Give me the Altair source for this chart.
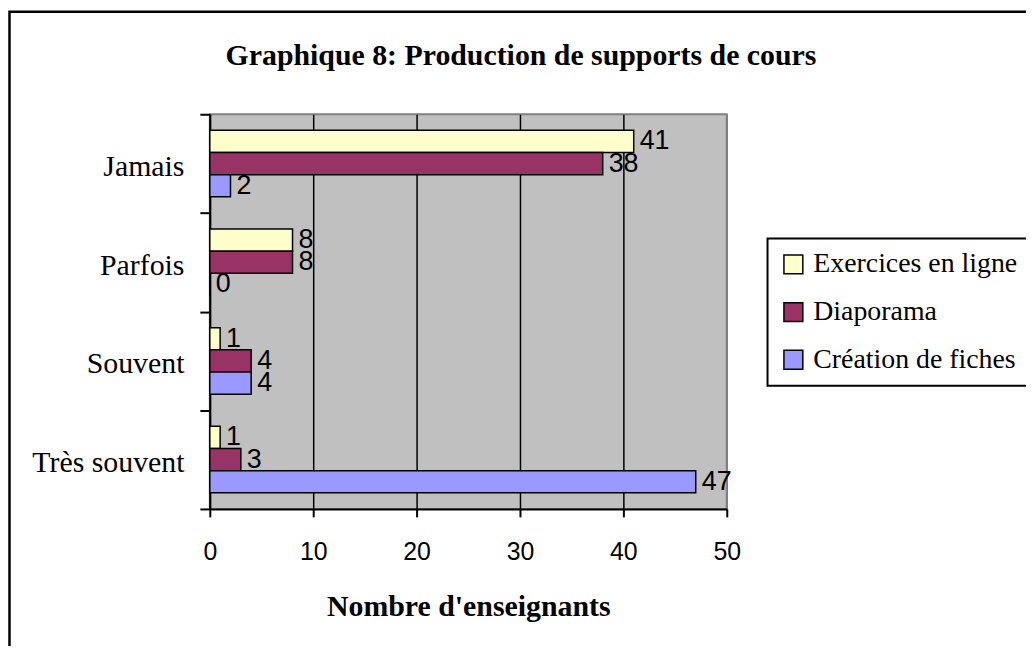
import altair as alt
import pandas as pd

categories = ["Jamais", "Parfois", "Souvent", "Très souvent"]
series = ["Exercices en ligne", "Diaporama", "Création de fiches"]
exercices = [41, 8, 1, 1]
diaporama = [38, 8, 4, 3]
fiches = [2, 0, 4, 47]
colors = ["#FFFFCC", "#993366", "#9999FF"]
x_ticks = [0, 10, 20, 30, 40, 50]
title_text = "Graphique 8: Production de supports de cours"
x_title = "Nombre d'enseignants"

rows = []
for s, vals in zip(series, [exercices, diaporama, fiches]):
    for c, v in zip(categories, vals):
        rows.append({"categorie": c, "serie": s, "valeur": v})
df = pd.DataFrame(rows)
dummy = pd.DataFrame({"d": [0]})

y_enc = alt.Y(
    "categorie:N",
    sort=categories,
    scale=alt.Scale(paddingInner=0, paddingOuter=0),
    axis=alt.Axis(
        title=None,
        labelFont="Liberation Serif",
        labelFontSize=30,
        labelPadding=16,
        labelOffset=3,
        tickSize=10,
        tickBand="extent",
        grid=False,
    ),
)
yoff_enc = alt.YOffset(
    "serie:N", sort=series, scale=alt.Scale(paddingInner=0, paddingOuter=0.725)
)
x_enc = alt.X(
    "valeur:Q",
    scale=alt.Scale(domain=[0, 50], nice=False, zero=True),
    axis=alt.Axis(
        values=x_ticks,
        title=x_title,
        titleFont="Liberation Serif",
        titleFontSize=30,
        titleFontWeight="bold",
        titlePadding=27,
        labelFont="Liberation Sans",
        labelFontSize=25,
        labelPadding=23,
        labelFlush=False,
        tickSize=8,
        grid=True,
        gridColor={"condition": {"test": "datum.value === 50", "value": "#808080"}, "value": "black"},
        gridWidth=1.5,
    ),
)

bars = alt.Chart(df).mark_bar(stroke="black", strokeWidth=1.5).encode(
    x=x_enc,
    y=y_enc,
    yOffset=yoff_enc,
    color=alt.Color(
        "serie:N",
        sort=series,
        scale=alt.Scale(domain=series, range=colors),
        legend=alt.Legend(title=None),
    ),
)

labels = alt.Chart(df).mark_text(
    align="left", baseline="middle", dx=6, font="Liberation Sans", fontSize=27, color="black"
).encode(
    x="valeur:Q",
    y=alt.Y("categorie:N", sort=categories),
    yOffset=alt.YOffset("serie:N", sort=series),
    text="valeur:Q",
)

title = alt.Chart(dummy).mark_text(
    text=title_text,
    font="Liberation Serif",
    fontSize=30,
    fontWeight="bold",
    align="center",
    baseline="alphabetic",
    color="black",
).encode(x=alt.value(313), y=alt.value(-50))

frame = alt.Chart(dummy).mark_rect(
    fill="white", fillOpacity=0, stroke="black", strokeWidth=2.5
).encode(
    x=alt.value(-201.5), x2=alt.value(900), y=alt.value(-103), y2=alt.value(620)
)

chart = (
    alt.layer(bars, labels, title, frame)
    .properties(
        width=520,
        height=397,
        autosize=alt.AutoSizeParams(type="none"),
        padding={"left": 203, "top": 105, "right": 301, "bottom": 136},
        background="white",
    )
    .configure_view(fill="#C0C0C0", stroke="#808080", strokeWidth=2)
    .configure_axis(
        domainColor="black",
        domainWidth=2,
        tickColor="black",
        tickWidth=2,
        labelColor="black",
        titleColor="black",
    )
    .configure_legend(
        orient="none",
        legendX=561,
        legendY=125,
        padding=12,
        rowPadding=20,
        symbolType="square",
        symbolSize=361,
        symbolStrokeColor="black",
        symbolStrokeWidth=1.5,
        symbolOpacity=1,
        labelFont="Liberation Serif",
        labelFontSize=28,
        labelColor="black",
        labelOffset=6,
        labelLimit=500,
        strokeColor="black",
        strokeWidth=2,
        fillColor="white",
    )
)

chart.save("out.html", embed_options={"renderer": "svg", "actions": False})
